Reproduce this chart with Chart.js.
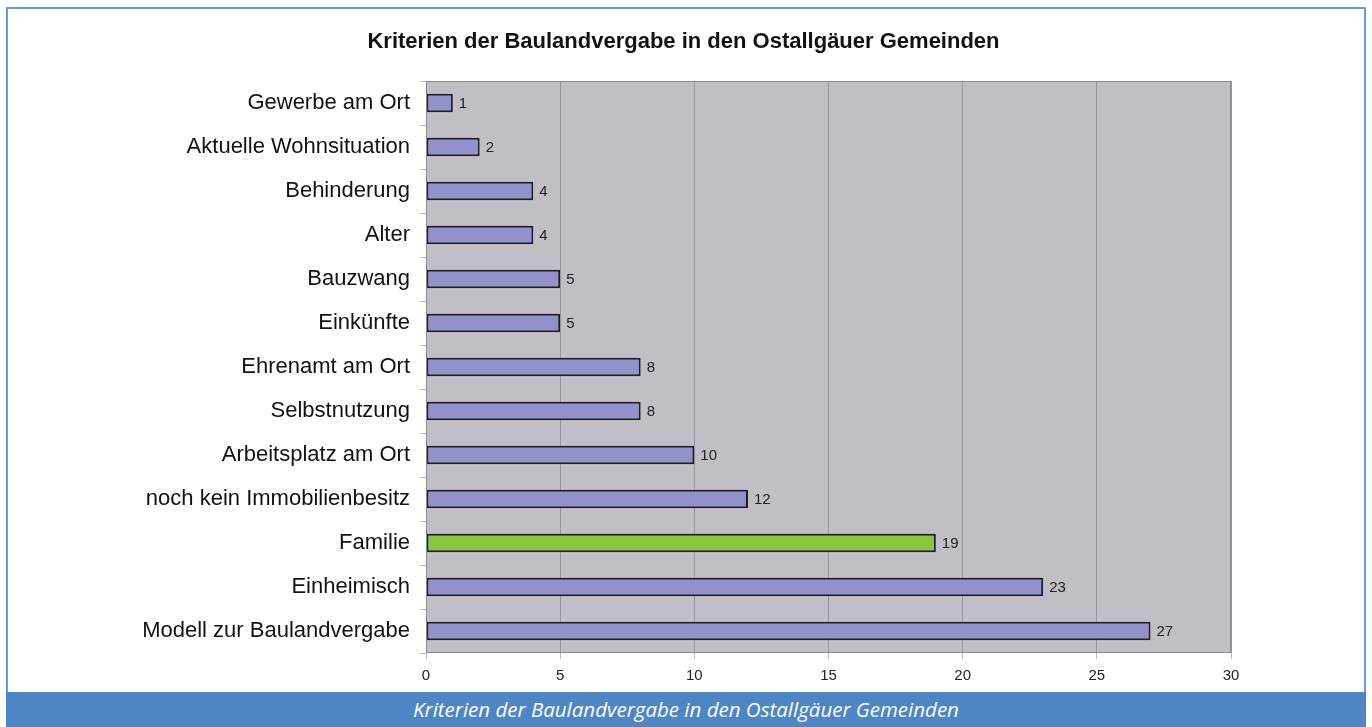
<!DOCTYPE html>
<html lang="de">
<head>
    <meta charset="UTF-8">
    <title>Kriterien der Baulandvergabe</title>
    <script src="https://cdn.jsdelivr.net/npm/chart.js"></script>
    <style>
        body { margin: 0; width: 1372px; height: 727px; position: relative; background: #fff; overflow: hidden; }
        #frame { position: absolute; left: 6px; top: 7px; width: 1356px; height: 685px; border: 2px solid #6a9bd8; border-bottom: none; }
        #banner { position: absolute; left: 6px; top: 692px; width: 1360px; height: 35px; background: #4e85c5;
                  color: #fff; font: italic 20.5px "Open Sans", sans-serif; text-align: center; line-height: 35px; }
        #wrap { position: absolute; left: 0; top: 0; width: 1372px; height: 692px; }
    </style>
</head>
<body>
    <div id="frame"></div>
    <div id="banner">Kriterien der Baulandvergabe in den Ostallgäuer Gemeinden</div>
    <div id="wrap"><canvas id="chart"></canvas></div>
    <script>
        const chartTitle = 'Kriterien der Baulandvergabe in den Ostallgäuer Gemeinden';
        const categories = [
            'Gewerbe am Ort', 'Aktuelle Wohnsituation', 'Behinderung', 'Alter', 'Bauzwang',
            'Einkünfte', 'Ehrenamt am Ort', 'Selbstnutzung', 'Arbeitsplatz am Ort',
            'noch kein Immobilienbesitz', 'Familie', 'Einheimisch', 'Modell zur Baulandvergabe'
        ];
        const counts = [1, 2, 4, 4, 5, 5, 8, 8, 10, 12, 19, 23, 27];
        const highlighted = 'Familie';
        const xTicks = [0, 5, 10, 15, 20, 25, 30];

        const FONT = 'Arial, "Liberation Sans", sans-serif';

        const plotBackground = {
            id: 'plotBackground',
            beforeDraw(chart) {
                const { ctx, chartArea: a } = chart;
                ctx.save();
                ctx.fillStyle = '#c2bec6';
                ctx.fillRect(a.left, a.top, a.right - a.left, a.bottom - a.top);
                ctx.restore();
            },
            afterDraw(chart) {
                const { ctx, chartArea: a } = chart;
                ctx.save();
                ctx.strokeStyle = '#8c8a90';
                ctx.lineWidth = 1;
                ctx.strokeRect(a.left + 0.5, a.top + 0.5, a.right - a.left - 1, a.bottom - a.top - 1);
                ctx.restore();
            }
        };

        const valueLabels = {
            id: 'valueLabels',
            afterDatasetsDraw(chart) {
                const { ctx } = chart;
                const meta = chart.getDatasetMeta(0);
                ctx.save();
                ctx.font = '15px ' + FONT;
                ctx.fillStyle = '#222';
                ctx.textBaseline = 'middle';
                meta.data.forEach((bar, i) => {
                    ctx.fillText(String(counts[i]), bar.x + 6, bar.y + 1);
                });
                ctx.restore();
            }
        };

        new Chart(document.getElementById('chart'), {
            type: 'bar',
            data: {
                labels: categories,
                datasets: [{
                    data: counts,
                    backgroundColor: categories.map(c => c === highlighted ? '#8cc63f' : '#9391cc'),
                    borderColor: '#1e1e2c',
                    borderWidth: 2,
                    borderSkipped: false,
                    barPercentage: 0.42,
                    categoryPercentage: 1
                }]
            },
            options: {
                indexAxis: 'y',
                responsive: true,
                maintainAspectRatio: false,
                animation: false,
                layout: { padding: { left: 136, right: 141, top: 0, bottom: 0 } },
                plugins: {
                    legend: { display: false },
                    tooltip: { enabled: false },
                    title: {
                        display: true,
                        text: chartTitle,
                        color: '#111',
                        font: { family: FONT, size: 22, weight: 'bold' },
                        padding: { top: 29, bottom: 25.6 }
                    }
                },
                scales: {
                    x: {
                        min: 0,
                        max: 30,
                        afterBuildTicks(scale) { scale.ticks = xTicks.map(v => ({ value: v })); },
                        afterFit(scale) { scale.height = 39; },
                        border: { display: false },
                        grid: { color: '#9896a0', lineWidth: 1, tickLength: 6, tickColor: '#bbb' },
                        ticks: {
                            color: '#222',
                            padding: 8,
                            font: { family: FONT, size: 15 }
                        }
                    },
                    y: {
                        afterFit(scale) { scale.width = 290; },
                        border: { display: false },
                        grid: { drawOnChartArea: false, offset: true, tickLength: 6, color: '#bbb' },
                        ticks: {
                            color: '#111',
                            padding: 10,
                            autoSkip: false,
                            font: { family: FONT, size: 22 }
                        }
                    }
                }
            },
            plugins: [plotBackground, valueLabels]
        });
    </script>
</body>
</html>
